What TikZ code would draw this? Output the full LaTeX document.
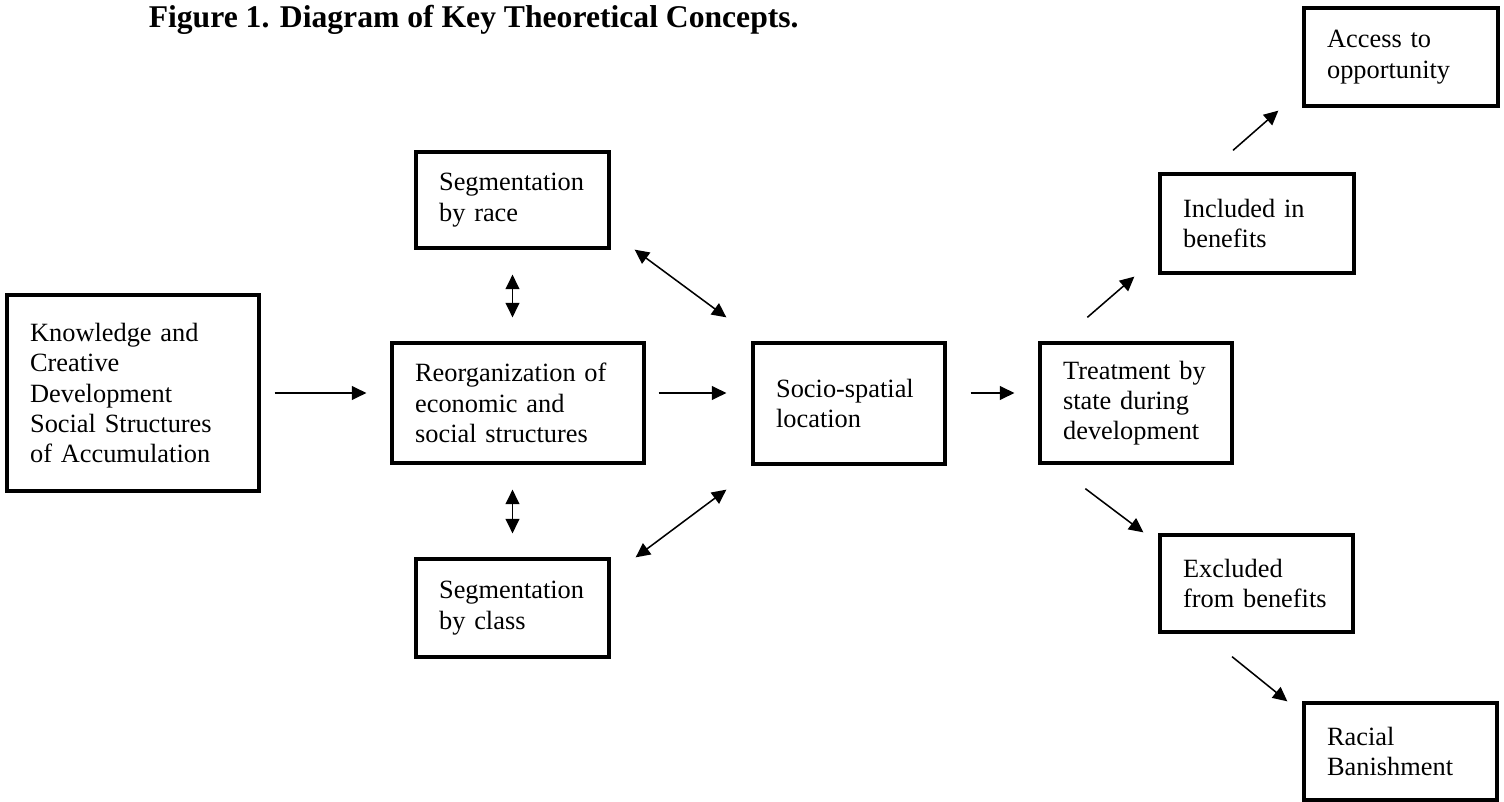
\documentclass[tikz,border=0pt]{standalone}
\usepackage{fontspec}
\setmainfont{Liberation Serif}
\usetikzlibrary{arrows.meta,positioning}

\begin{document}
\begin{tikzpicture}[>={Triangle[length=0.23cm,width=0.22cm]},line width=0.7pt,
  box/.style={draw,line width=1.5pt,align=left,inner xsep=0.37cm,inner ysep=0pt,font=\fontsize{12}{13.8}\selectfont}]
\useasboundingbox (0,0) rectangle (24.064,-12.832);
\node[anchor=base west,inner sep=0pt,font=\fontsize{14.4}{16}\selectfont\bfseries] (t) at (2.368,-0.448) {Figure 1. Diagram of Key Theoretical Concepts.};
\node[box,text width=3.292cm,minimum height=3.136cm] (a) at (2.128,-6.288) {Knowledge and\\Creative\\Development\\Social Structures\\of Accumulation};
\node[box,text width=2.348cm,minimum height=1.536cm] (b) at (8.2,-3.2) {Segmentation\\by race};
\node[box,text width=3.292cm,minimum height=1.92cm] (c) at (8.288,-6.448) {Reorganization of\\economic and\\social structures};
\node[box,text width=2.348cm,minimum height=1.568cm] (d) at (8.2,-9.728) {Segmentation\\by class};
\node[box,text width=2.332cm,minimum height=1.936cm] (e) at (13.584,-6.456) {Socio-spatial\\location};
\node[box,text width=2.332cm,minimum height=1.92cm] (f) at (18.176,-6.448) {Treatment by\\state during\\development};
\node[box,text width=2.364cm,minimum height=1.584cm] (g) at (20.112,-3.576) {Included in\\benefits};
\node[box,text width=2.364cm,minimum height=1.568cm] (h) at (22.416,-0.912) {Access to\\opportunity};
\node[box,text width=2.348cm,minimum height=1.552cm] (i) at (20.104,-9.336) {Excluded\\from benefits};
\node[box,text width=2.348cm,minimum height=1.552cm] (j) at (22.408,-12.024) {Racial\\Banishment};

\path
(a.east) edge[->,shorten <=0.224cm,shorten >=0.384cm] (c.west |- a.east)
(c.east |- a.east) edge[->,shorten <=0.208cm,shorten >=0.4cm] (e.west |- a.east)
(e.east |- a.east) edge[->,shorten <=0.384cm,shorten >=0.384cm] (f.west |- a.east)
(b.south) edge[<->,shorten <=0.4cm,shorten >=0.384cm] (b.south |- c.north)
(d.north |- c.south) edge[<->,shorten <=0.4cm,shorten >=0.384cm] (d.north)
([xshift=0.384cm]b.south east) edge[<->] ([xshift=-0.4cm,yshift=0.384cm]e.north west)
([xshift=0.4cm]d.north east) edge[<->] ([xshift=-0.4cm,yshift=-0.384cm]e.south west)
([xshift=0.784cm,yshift=0.384cm]f.north west) edge[->] ([xshift=-0.384cm,yshift=-0.032cm]g.south west)
([xshift=-0.384cm,yshift=0.352cm]g.north) edge[->] ([xshift=-0.384cm,yshift=-0.048cm]h.south west)
([xshift=0.752cm,yshift=-0.384cm]f.south west) edge[->] ([xshift=-0.24cm,yshift=0.016cm]i.north west)
([xshift=-0.392cm,yshift=-0.368cm]i.south) edge[->] ([xshift=-0.24cm]j.north west);
\end{tikzpicture}
\end{document}
